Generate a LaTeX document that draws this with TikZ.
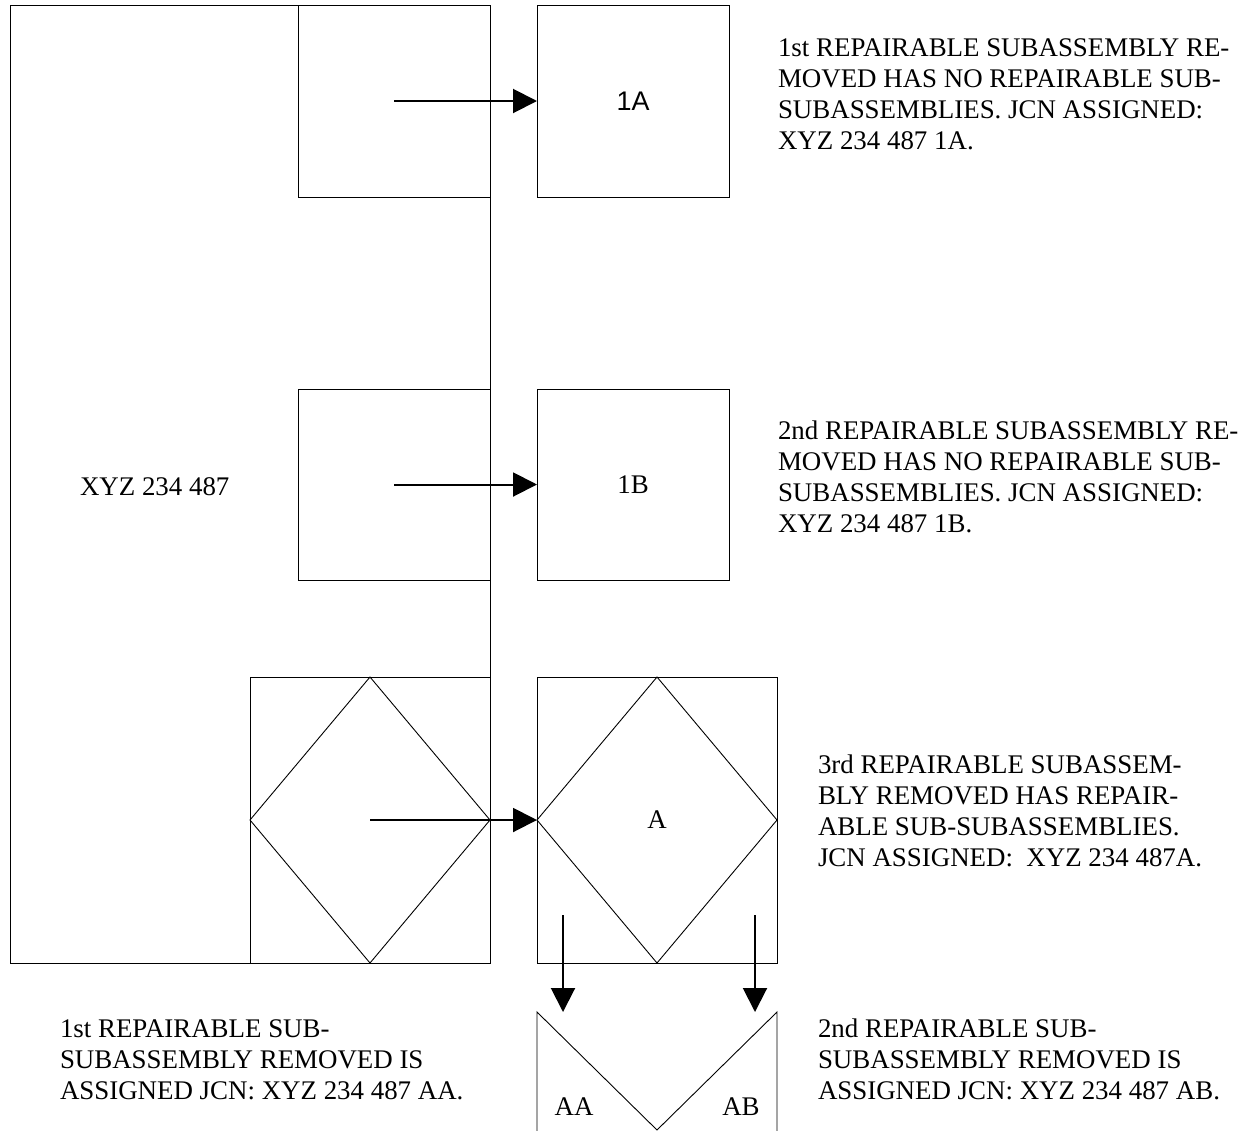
\documentclass[tikz,border=0pt]{standalone}
\usepackage{fontspec}
\setmainfont{Liberation Serif}
\newfontfamily\labelsans{Liberation Sans}
\usetikzlibrary{arrows.meta}
\begin{document}
\begin{tikzpicture}[x=1pt,y=-1pt,
  every node/.style={font=\fontsize{26.9}{31}\selectfont, inner sep=0pt, outer sep=0pt},
  box/.style={draw, line width=1pt},
  sq/.style={box, minimum width=192pt, minimum height=192pt},
  big/.style={box, minimum width=240pt, minimum height=286pt},
  txt/.style={anchor=base west},
  arr/.style={line width=2pt, -{Triangle[length=24pt,width=24pt]}},
  thin/.style={line width=0.9pt, line join=miter}]
\useasboundingbox (0,0) rectangle (1247,1130);

% assembly outline
\node[box, minimum width=480pt, minimum height=958pt] (main) at (250,484) {};
\node[txt] (mainlbl) at (80,495) {XYZ 234 487};

% first subassembly
\node[sq] (s1) at (394,101) {};
\node[sq] (b1) at (633,101) {\labelsans 1A};
\draw[arr] (s1.center) -- (b1.west);

% second subassembly
\node[sq, minimum height=191pt] (s2) at (394,484.5) {};
\node[sq, minimum height=191pt] (b2) at (633,484.5) {1B};
\draw[arr] (s2.center) -- (b2.west);

% third subassembly with its sub-subassemblies
\node[big] (s3) at (370,820) {};
\draw[thin] (s3.north) -- (s3.east) -- (s3.south) -- (s3.west) -- cycle;
\node[big] (b3) at (657,820) {A};
\draw[thin] (b3.north) -- (b3.east) -- (b3.south) -- (b3.west) -- cycle;
\draw[arr] (s3.center) -- (b3.west);

% split pieces AA and AB
\coordinate (pl) at (537,1012);
\coordinate (pr) at (777,1012);
\coordinate (pv) at (657,1130);
\draw[thin] (537,1132) -- (pl) -- (pv) -- (pr) -- (777,1132);
\node (aa) at (574,1107) {AA};
\node (ab) at (741,1107) {AB};
\coordinate (dl0) at (563,915);
\coordinate (dl1) at (563,1012);
\coordinate (dr0) at (755,915);
\coordinate (dr1) at (755,1012);
\draw[arr] (dl0) -- (dl1);
\draw[arr] (dr0) -- (dr1);

% notes
\node[txt] (n1a) at (778,56) {1st REPAIRABLE SUBASSEMBLY RE-};
\node[txt] (n1b) at (778,87) {MOVED HAS NO REPAIRABLE SUB-};
\node[txt] (n1c) at (778,118) {SUBASSEMBLIES. JCN ASSIGNED:};
\node[txt] (n1d) at (778,149) {XYZ 234 487 1A.};

\node[txt] (n2a) at (778,439) {2nd REPAIRABLE SUBASSEMBLY RE-};
\node[txt] (n2b) at (778,470) {MOVED HAS NO REPAIRABLE SUB-};
\node[txt] (n2c) at (778,501) {SUBASSEMBLIES. JCN ASSIGNED:};
\node[txt] (n2d) at (778,532) {XYZ 234 487 1B.};

\node[txt] (n3a) at (818,773) {3rd REPAIRABLE SUBASSEM-};
\node[txt] (n3b) at (818,804) {BLY REMOVED HAS REPAIR-};
\node[txt] (n3c) at (818,835) {ABLE SUB-SUBASSEMBLIES.};
\node[txt] (n3d) at (818,866) {JCN ASSIGNED:\ \ XYZ 234 487A.};

\node[txt] (n4a) at (60,1037) {1st REPAIRABLE SUB-};
\node[txt] (n4b) at (60,1068) {SUBASSEMBLY REMOVED IS};
\node[txt] (n4c) at (60,1099) {ASSIGNED JCN: XYZ 234 487 AA.};

\node[txt] (n5a) at (818,1037) {2nd REPAIRABLE SUB-};
\node[txt] (n5b) at (818,1068) {SUBASSEMBLY REMOVED IS};
\node[txt] (n5c) at (818,1099) {ASSIGNED JCN: XYZ 234 487 AB.};
\end{tikzpicture}
\end{document}
